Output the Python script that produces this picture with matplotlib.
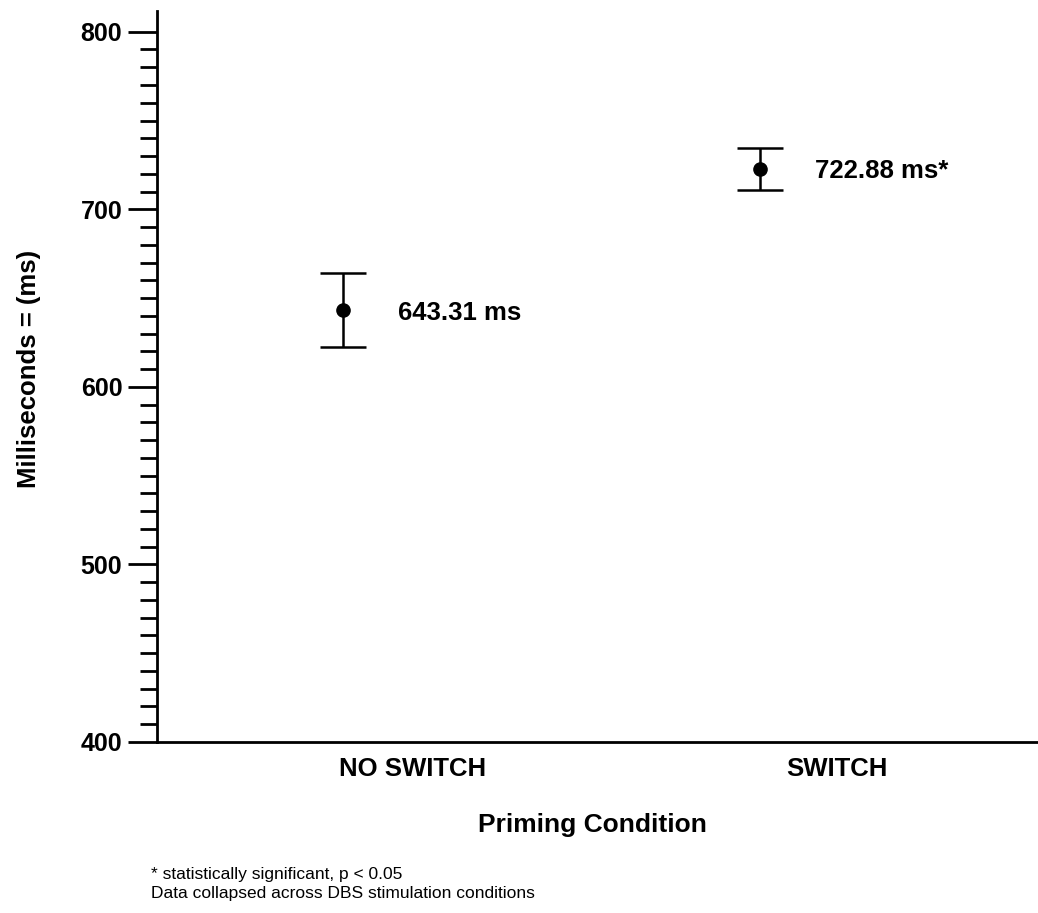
import matplotlib
matplotlib.use("Agg")
import matplotlib.pyplot as plt
import numpy as np

# values
conditions = ["NO SWITCH", "SWITCH"]
mean_ms = [643.31, 722.88]
err_ms = [20.7, 11.8]
value_labels = ["643.31 ms", "722.88 ms*"]
footnotes = ["* statistically significant, p < 0.05",
             "Data collapsed across DBS stimulation conditions"]

plt.rcParams["font.family"] = ["Liberation Sans", "DejaVu Sans"]

fig = plt.figure(figsize=(10.38, 9.13), dpi=100)
ax = fig.add_axes([0.1513, 0.1873, 0.8487, 0.8007])

x_ticks = [1, 2]
offsets = [-0.163, -0.18]  # points sit a little left of the category labels
x_pts = [x + o for x, o in zip(x_ticks, offsets)]

ax.errorbar(x_pts, mean_ms, yerr=err_ms, fmt="o", color="black",
            markersize=9.5, elinewidth=1.8, capsize=16.5, capthick=1.8)

for xp, y, lab in zip(x_pts, mean_ms, value_labels):
    ax.annotate(lab, (xp, y), xytext=(39.5, -2), textcoords="offset points",
                ha="left", va="center", fontsize=18.5, fontweight="bold")

ax.set_xlim(0.399, 2.475)
ax.set_ylim(400, 811.7)
ax.set_xticks(x_ticks)
ax.set_xticklabels(conditions, fontsize=18.5, fontweight="bold")
ax.set_yticks(np.arange(400, 801, 100))
ax.set_yticks(np.arange(410, 800, 10), minor=True)

ax.spines["top"].set_visible(False)
ax.spines["right"].set_visible(False)
ax.spines["left"].set_linewidth(2)
ax.spines["bottom"].set_linewidth(2)

ax.tick_params(axis="y", which="major", length=21, width=2, pad=4,
               labelsize=18, direction="out")
ax.tick_params(axis="y", which="minor", length=12, width=2, direction="out")
ax.tick_params(axis="x", length=0, pad=10.5)
for t in ax.get_yticklabels():
    t.set_fontweight("bold")

ax.set_ylabel("Milliseconds = (ms)", fontsize=18.5, fontweight="bold")
ax.yaxis.set_label_coords(-0.132, 0.51)
ax.set_xlabel("Priming Condition", fontsize=19, fontweight="bold")
ax.xaxis.set_label_coords(0.494, -0.097)

fig.text(0.1455, 1 - 874 / 913, footnotes[0], fontsize=12.5, va="center")
fig.text(0.1455, 1 - 893 / 913, footnotes[1], fontsize=12.5, va="center")

fig.savefig("out.png", dpi=100)
